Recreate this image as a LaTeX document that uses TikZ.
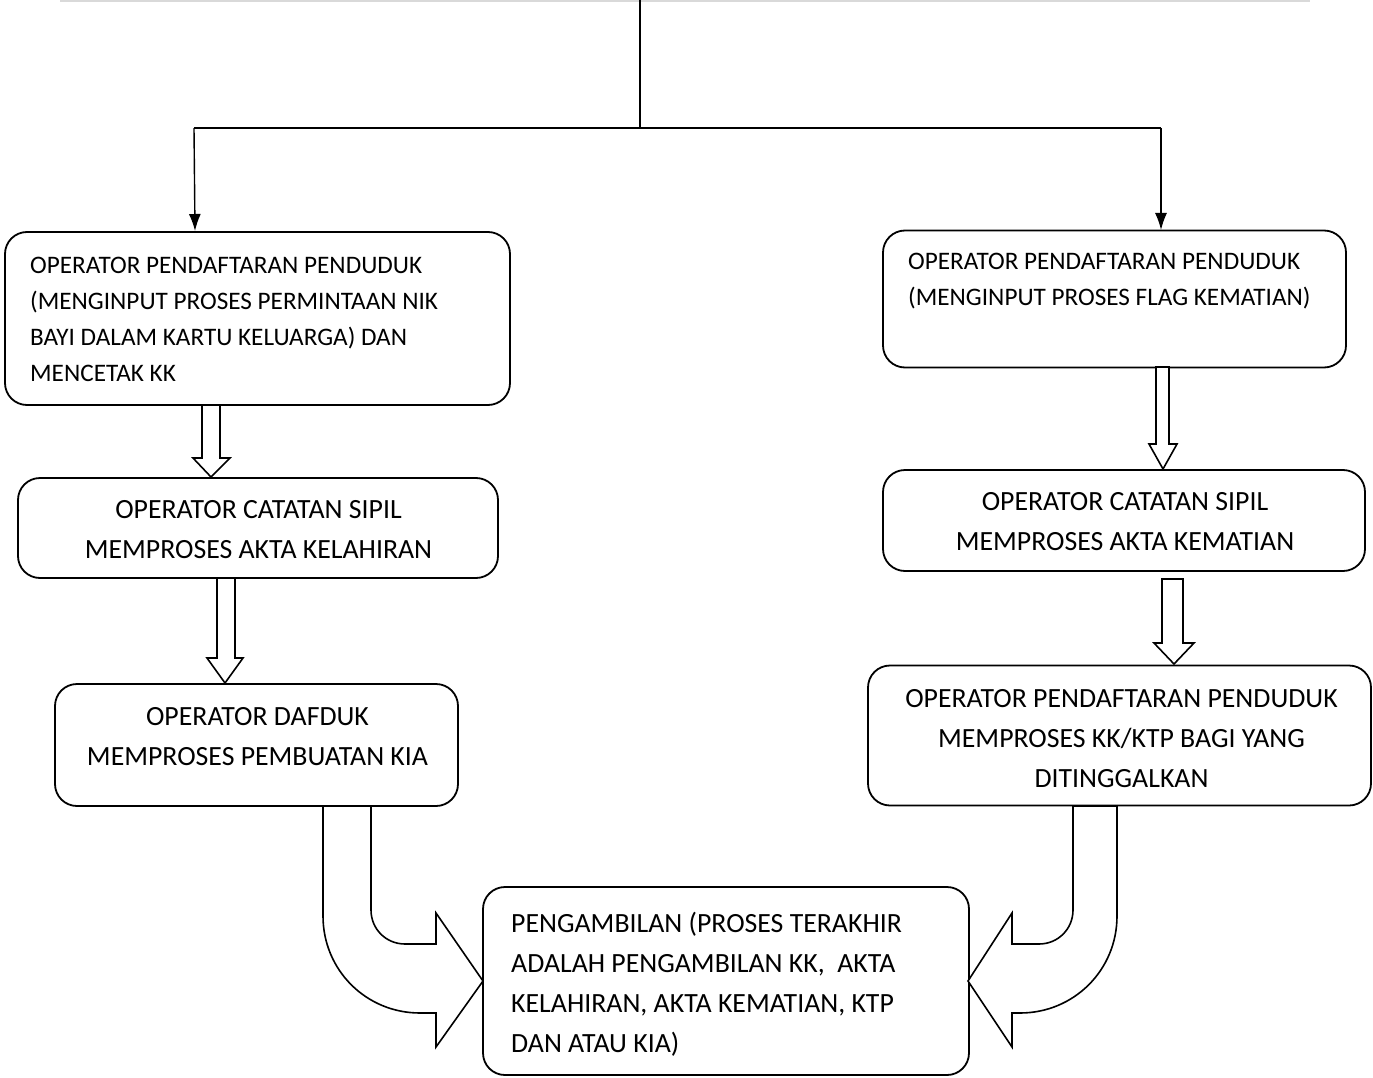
\documentclass[tikz,border=0pt]{standalone}
\usepackage{fontspec}
\setmainfont{Carlito}
\usetikzlibrary{arrows.meta}
\tikzset{
  box/.style={draw, line width=1.8pt, rounded corners=22pt, inner sep=0pt},
  small/.style={inner sep=0pt, font=\fontsize{25.2}{36}\selectfont},
  big/.style={inner sep=0pt, font=\fontsize{27.8}{40}\selectfont},
  thin/.style={line width=1.4pt},
  thinarrow/.style={line width=1.4pt, -{Latex[length=17pt,width=12pt]}},
  hollow/.style={draw, line width=1.6pt, line join=miter, fill=white},
}
\begin{document}
\begin{tikzpicture}[x=1pt,y=-1pt]
\useasboundingbox[fill=white] (0,0) rectangle (1373,1078);
% faint top edge
\draw[gray!30, line width=1.5pt] (60,0.8) -- (1310,0.8);

% boxes
\node[box, minimum width=505pt, minimum height=173pt] (b1) at (257.5,318.5) {};
\node[box, minimum width=480pt, minimum height=100pt] (b2) at (258,528) {};
\node[box, minimum width=403pt, minimum height=122pt] (b3) at (256.5,745) {};
\node[box, minimum width=463pt, minimum height=137pt] (b4) at (1114.5,299) {};
\node[box, minimum width=482pt, minimum height=101pt] (b5) at (1124,520.5) {};
\node[box, minimum width=503pt, minimum height=140pt] (b6) at (1119.5,735.5) {};
\node[box, minimum width=486pt, minimum height=188pt] (b7) at (726,981) {};

% texts
\node[small, anchor=west, align=left] (t1) at (30,319) {OPERATOR PENDAFTARAN PENDUDUK\\(MENGINPUT PROSES PERMINTAAN NIK\\BAYI DALAM KARTU KELUARGA) DAN\\MENCETAK KK};
\node[big, align=center] (t2) at (258.5,530) {OPERATOR CATATAN SIPIL\\MEMPROSES AKTA KELAHIRAN};
\node[big, align=center] (t3) at (257.5,737) {OPERATOR DAFDUK\\MEMPROSES PEMBUATAN KIA};
\node[small, anchor=west, align=left] (t4) at (908,281) {OPERATOR PENDAFTARAN PENDUDUK\\(MENGINPUT PROSES FLAG KEMATIAN)};
\node[big, align=center] (t5) at (1125,522) {OPERATOR CATATAN SIPIL\\MEMPROSES AKTA KEMATIAN};
\node[big, align=center] (t6) at (1121.5,739) {OPERATOR PENDAFTARAN PENDUDUK\\MEMPROSES KK/KTP BAGI YANG\\DITINGGALKAN};
\node[big, anchor=west, align=left] (t7) at (511,984) {PENGAMBILAN (PROSES TERAKHIR\\ADALAH PENGAMBILAN KK,\ \ AKTA\\KELAHIRAN, AKTA KEMATIAN, KTP\\DAN ATAU KIA)};

% thin connectors
\coordinate (top) at (640,0);
\coordinate (split) at (640,128);
\coordinate (lc) at (194,128);
\coordinate (rc) at (1161,128);
\draw[thin] (top) -- (split);
\draw[thin] (lc) -- (rc);
\draw[thinarrow] (lc) -- (195,231);
\draw[thinarrow] (rc) -- (1161,230);

% hollow block arrows
\draw[hollow] (202,405) -- (202,458) -- (193,458) -- (211,477) -- (230,458) -- (220,458) -- (220,405) -- cycle;
\draw[hollow] (217,578) -- (217,658) -- (207,658) -- (225,683) -- (243,658) -- (235,658) -- (235,578) -- cycle;
\draw[hollow] (1156,367) -- (1156,444) -- (1149,444) -- (1163,469) -- (1177,444) -- (1169,444) -- (1169,367) -- cycle;
\draw[hollow] (1162,579) -- (1162,643) -- (1154,643) -- (1174,664) -- (1194,643) -- (1183,643) -- (1183,579) -- cycle;

% curved block arrows
\draw[hollow] (371,806) -- (371,910) .. controls (371,929) and (386,944) .. (405,944)
  -- (436,944) -- (436,913) -- (483,981) -- (436,1047) -- (436,1013) -- (420,1013)
  .. controls (366,1013) and (323,970) .. (323,916) -- (323,806) -- cycle;
\draw[hollow] (1073,806) -- (1073,910) .. controls (1073,929) and (1058,944) .. (1039,944)
  -- (1012,944) -- (1012,913) -- (968,981) -- (1012,1047) -- (1012,1013) -- (1020,1013)
  .. controls (1074,1013) and (1117,970) .. (1117,916) -- (1117,806) -- cycle;
\end{tikzpicture}
\end{document}
